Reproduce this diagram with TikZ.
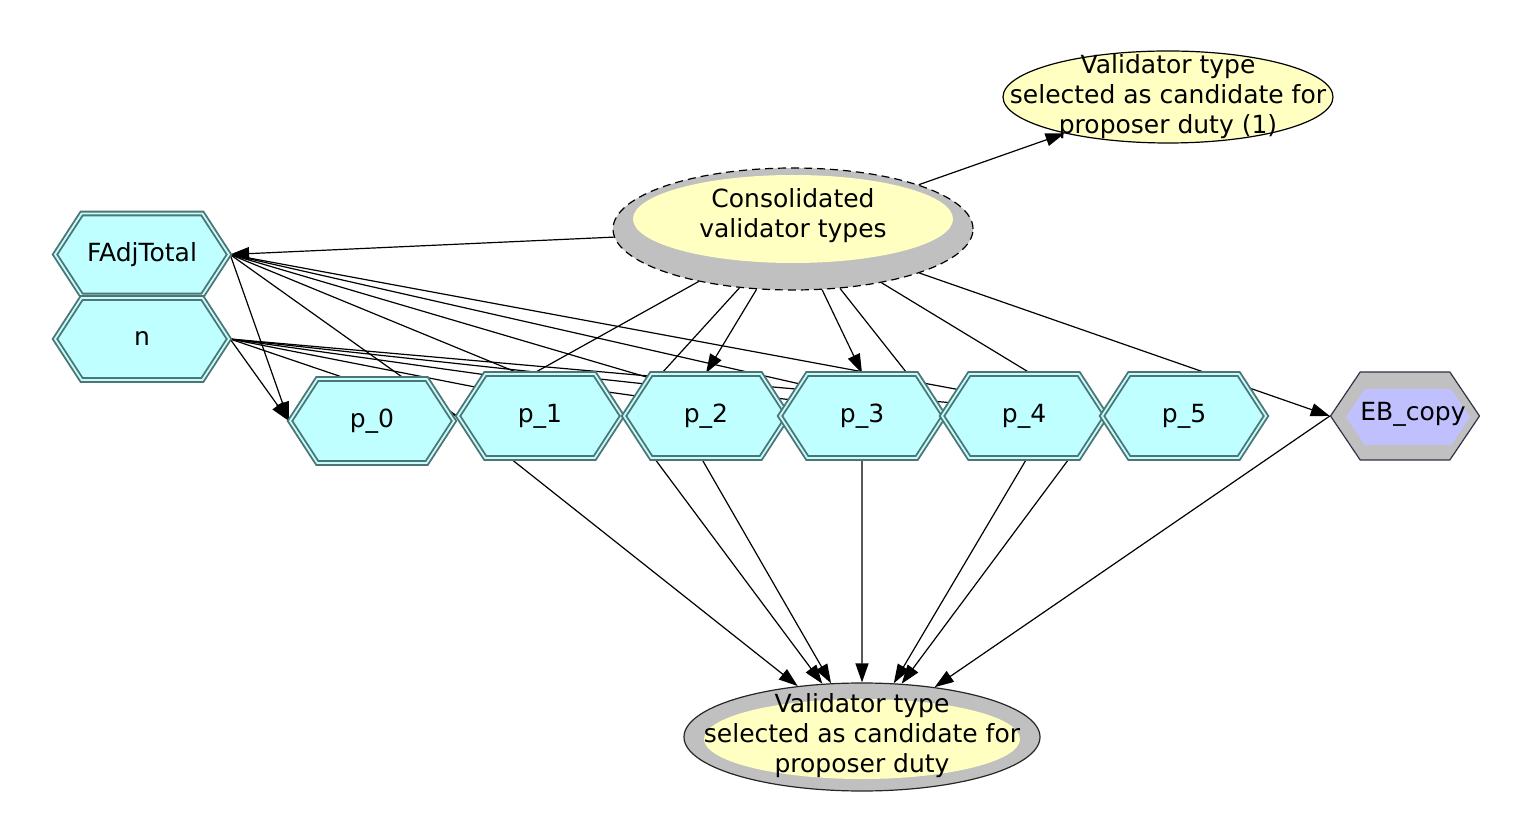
\documentclass[tikz,border=0pt]{standalone}
\usepackage{fontspec}
\setmainfont{DejaVu Sans}
\usetikzlibrary{shapes.geometric,shapes.symbols,arrows.meta,calc}
\pgfdeclarelayer{background}
\pgfsetlayers{background,main}
\definecolor{hexfill}{RGB}{192,255,255}
\definecolor{hexedge}{RGB}{80,116,116}
\definecolor{ringgrey}{RGB}{192,192,192}
\definecolor{nodeyellow}{RGB}{255,255,194}
\definecolor{lavender}{RGB}{192,192,255}
\definecolor{ebedge}{RGB}{50,50,70}
\newcommand\lblfont{\fontsize{12.5pt}{15pt}\selectfont}
\begin{document}
\begin{tikzpicture}[x=0.5pt,y=-0.5pt,
  hexbox/.style={signal, signal to=west and east, signal pointer angle=114,
    draw=hexedge, double=hexfill, double distance=0.9pt, line width=0.95pt,
    fill=hexfill, inner sep=0pt, minimum height=41pt, font=\lblfont},
  hexwide/.style={hexbox, minimum width=87pt},
  hexp/.style={hexbox, minimum width=82pt, minimum height=42pt},
  ebouter/.style={signal, signal to=west and east, signal pointer angle=112,
    fill=ringgrey, draw=ebedge, line width=0.6pt, inner sep=0pt,
    minimum width=74.5pt, minimum height=44pt},
  ebinner/.style={signal, signal to=west and east, signal pointer angle=112,
    fill=lavender, inner sep=0pt, minimum width=62pt, minimum height=28pt},
  ringout/.style={ellipse, fill=ringgrey, inner sep=0pt},
  yolk/.style={ellipse, fill=nodeyellow, inner sep=0pt},
  txt/.style={align=center, inner sep=0pt, font=\lblfont},
  ln/.style={draw=black, line width=0.6pt},
  arr/.style={ln, -{Triangle[length=9.5pt,width=6.5pt]}}
]
\useasboundingbox (0,0) rectangle (1530,822);

% level and share variables
\node[hexwide] (FA) at (142,254.5) {FAdjTotal};
\node[hexwide] (n)  at (142,339) {n};
\node[hexp] (p0) at (372,421) {p\_0};
\node[hexp] (p1) at (540,416) {p\_1};
\node[hexp] (p2) at (706,416) {p\_2};
\node[hexp] (p3) at (862,416) {p\_3};
\node[hexp] (p4) at (1024,416) {p\_4};
\node[hexp] (p5) at (1184,416) {p\_5};

% copied input
\node[ebouter] (EB) at (1405,416) {};
\node[ebinner] (EBin) at (1408,417) {};
\node[txt] (EBtxt) at (1413,414) {EB\_copy};

% consolidated chance node with dashed outline
\node[ringout, minimum width=180pt, minimum height=61pt, draw=black,
      line width=0.6pt, dash pattern=on 4pt off 2.5pt] (cons) at (793,229) {};
\node[yolk, minimum width=160pt, minimum height=44pt] (consin) at (793,219) {};
\node[txt] (constxt) at (793,215.5) {Consolidated\\validator types};

% selected candidate (1)
\node[yolk, draw=black, line width=0.6pt, minimum width=165pt, minimum height=46pt] (top) at (1168,97) {};
\node[txt] (toptxt) at (1168,96.5) {Validator type\\selected as candidate for\\proposer duty (1)};

% selected candidate
\node[ringout, draw=black!85, line width=0.6pt, minimum width=178pt, minimum height=54pt] (bot) at (862,737) {};
\node[yolk, minimum width=158pt, minimum height=40pt] (botin) at (862,739) {};
\node[txt] (bottxt) at (862,736) {Validator type\\selected as candidate for\\proposer duty};

\coordinate (p2aux) at ($(p2)+(-29,0)$);
\coordinate (p4aux) at ($(p4)+(28,0)$);

\begin{pgfonlayer}{background}
  \fill[white] (0,0) rectangle (1530,822);
  % influences of the consolidated types
  \draw[arr] (cons) -- (top);
  \draw[arr] (cons) -- (FA.east);
  \draw[arr] (cons) -- (EB.west);
  \draw[arr] (cons) -- (p2.north);
  \draw[arr] (cons) -- (p3.north);
  \foreach \t in {p1,p2,p4,p5} \draw[ln] (cons) -- (\t.west);
  % normalisation inputs
  \draw[arr] (FA.east) -- (p0.west);
  \draw[arr] (n.east) -- (p0.west);
  \foreach \t in {p1,p2,p3,p4,p5} {
    \draw[ln] (FA.east) -- (\t.west);
    \draw[ln] (n.east) -- (\t.west);
  }
  % into the selection
  \draw[arr] (p1.west) -- (bot);
  \draw[arr] (p2.west) -- (bot);
  \draw[arr] (p2aux) -- (bot);
  \draw[arr] (p3) -- (bot);
  \draw[arr] (p4aux) -- (bot);
  \draw[arr] (p5.west) -- (bot);
  \draw[arr] (EB.west) -- (bot);
\end{pgfonlayer}
\end{tikzpicture}
\end{document}
